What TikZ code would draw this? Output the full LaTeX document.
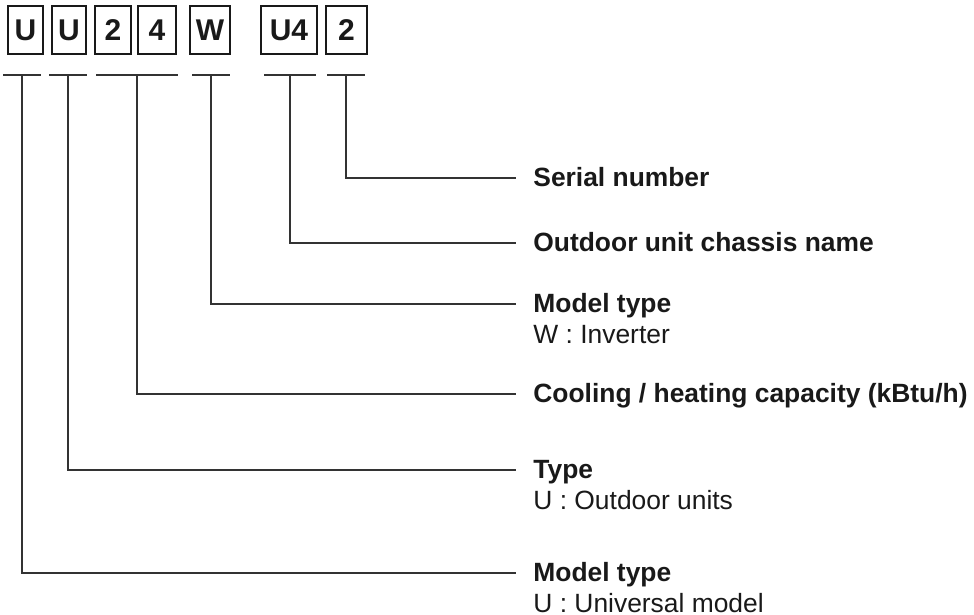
\documentclass[tikz,border=0pt]{standalone}
\usepackage{fontspec}
\setmainfont{Liberation Sans}
\usetikzlibrary{positioning}

\begin{document}
\begin{tikzpicture}[
    x=0.5pt, y=-0.5pt,
    every node/.style={text=black!90},
    digit/.style={
        rectangle,
        draw=black!90,
        line width=1pt,
        minimum height=24pt,
        inner sep=0pt,
        font=\fontsize{15}{17}\selectfont\bfseries
    },
    bar/.style={rectangle, fill=black!80, minimum height=0.8pt, inner sep=0pt},
    lead/.style={line width=0.7pt, draw=black!80},
    title/.style={anchor=base west, inner xsep=8.5pt, inner ysep=0pt,
        font=\fontsize{13.2}{15}\selectfont\bfseries},
    desc/.style={anchor=base west, inner xsep=8.5pt, inner ysep=0pt,
        font=\fontsize{13.2}{15}\selectfont}
]
\useasboundingbox (0,0) rectangle (974,615);

% code boxes
\node[digit, minimum width=17.5pt] (c1) at (25.5,30) {U};
\node[digit, minimum width=17pt] (c2) at (69,30) {U};
\node[digit, minimum width=18pt] (c3) at (113,30) {2};
\node[digit, minimum width=19pt] (c4) at (157,30) {4};
\node[digit, minimum width=20pt] (c5) at (210,30) {W};
\node[digit, minimum width=28pt] (c6) at (289,30) {U4};
\node[digit, minimum width=20.5pt] (c7) at (346.5,30) {2};

% bars under the boxes
\node[bar, minimum width=19pt] (b1) at (22,75) {};
\node[bar, minimum width=19pt] (b2) at (68,75) {};
\node[bar, minimum width=41pt] (b3) at (137,75) {};
\node[bar, minimum width=19pt] (b4) at (211,75) {};
\node[bar, minimum width=26pt] (b5) at (290,75) {};
\node[bar, minimum width=19pt] (b6) at (346,75) {};

% labels
\node[title] (t6) at (516,186) {Serial number};
\node[title] (t5) at (516,251) {Outdoor unit chassis name};
\node[title] (t4) at (516,312) {Model type};
\node[desc] (d4) at (516,343) {W : Inverter};
\node[title] (t3) at (516,402) {Cooling / heating capacity (kBtu/h)};
\node[title] (t2) at (516,478) {Type};
\node[desc] (d2) at (516,509) {U : Outdoor units};
\node[title] (t1) at (516,581) {Model type};
\node[desc] (d1) at (516,612) {U : Universal model};

\draw[lead] (b1.south) |- ([yshift=4pt]t1.base west);
\draw[lead] (b2.south) |- ([yshift=4pt]t2.base west);
\draw[lead] (b3.south) |- ([yshift=4pt]t3.base west);
\draw[lead] (b4.south) |- ([yshift=4pt]t4.base west);
\draw[lead] (b5.south) |- ([yshift=4pt]t5.base west);
\draw[lead] (b6.south) |- ([yshift=4pt]t6.base west);
\end{tikzpicture}
\end{document}
